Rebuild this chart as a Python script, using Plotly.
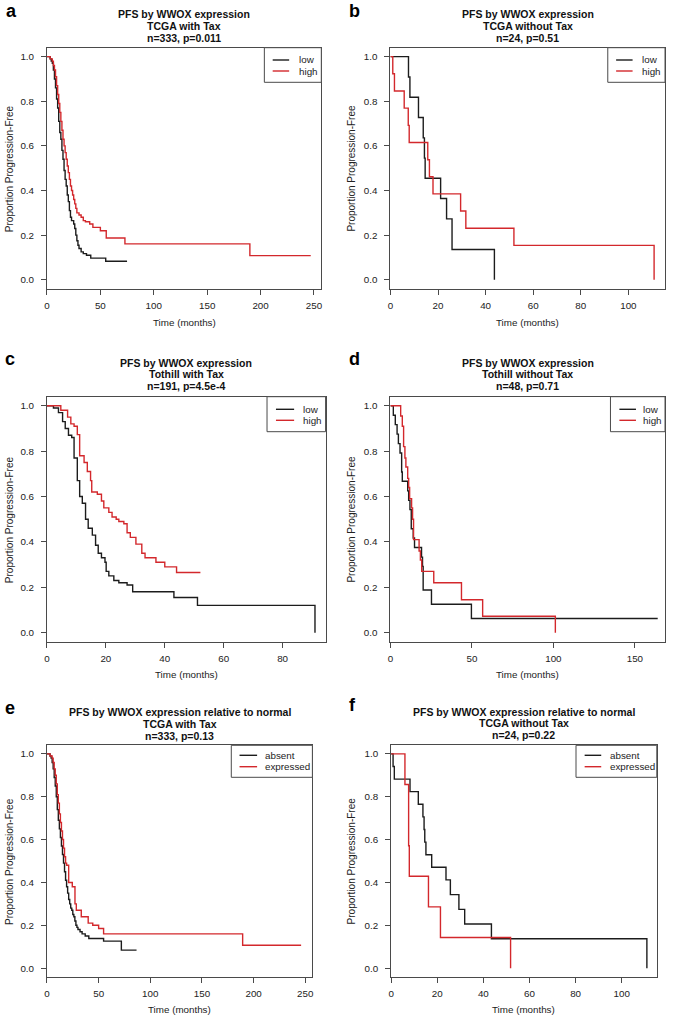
import plotly.graph_objects as go

# ---------------- data ----------------
A_LOW_T = [0, 3, 4, 5, 6, 7, 8, 9, 10, 11, 12, 13, 14, 15, 16, 17, 18, 19, 20, 21, 22, 23, 25, 26, 27, 28, 29, 30, 32, 34, 37, 41, 55, 75]
A_LOW_S = [1.0, 0.99, 0.98, 0.97, 0.94, 0.90, 0.86, 0.81, 0.77, 0.71, 0.66, 0.63, 0.58, 0.54, 0.49, 0.45, 0.42, 0.38, 0.35, 0.31, 0.28, 0.265, 0.25, 0.23, 0.20, 0.175, 0.155, 0.14, 0.125, 0.117, 0.11, 0.097, 0.083, 0.083]
A_HIGH_T = [0, 3, 5, 6, 7, 8, 9, 10, 11, 12, 13, 14, 15, 16, 17, 18, 19, 20, 21, 22, 23, 24, 25, 26, 27, 28, 30, 32, 34, 36, 40, 43, 50, 55.5, 73, 190, 247]
A_HIGH_S = [1.0, 0.99, 0.98, 0.96, 0.94, 0.91, 0.87, 0.83, 0.79, 0.75, 0.71, 0.67, 0.63, 0.60, 0.57, 0.54, 0.51, 0.48, 0.45, 0.42, 0.40, 0.38, 0.36, 0.34, 0.32, 0.30, 0.29, 0.28, 0.265, 0.26, 0.25, 0.235, 0.22, 0.187, 0.161, 0.108, 0.108]

B_LOW_T = [0, 7.6, 8.2, 11.8, 13.8, 14.3, 14.6, 21.1, 23.6, 25.9, 43.7]
B_LOW_S = [1, 0.909, 0.818, 0.727, 0.636, 0.545, 0.455, 0.364, 0.273, 0.136, 0]
B_HIGH_T = [0, 1.0, 1.7, 5.8, 7.5, 7.9, 15.7, 16.4, 17.9, 29.5, 31.7, 51.9, 110.8]
B_HIGH_S = [1, 0.923, 0.846, 0.769, 0.692, 0.615, 0.538, 0.462, 0.385, 0.308, 0.231, 0.154, 0]

C_LOW_T = [0, 2.2, 3.9, 5.3, 6.2, 7.3, 8.4, 9.2, 10.3, 11.1, 12.0, 13.1, 14.0, 15.4, 16.5, 17.4, 18.5, 19.7, 20.1, 21.0, 22.7, 24.4, 27.2, 29.1, 43.1, 51.1, 91]
C_LOW_S = [1, 0.99, 0.97, 0.93, 0.90, 0.87, 0.86, 0.77, 0.67, 0.60, 0.57, 0.50, 0.46, 0.43, 0.385, 0.35, 0.33, 0.31, 0.27, 0.25, 0.23, 0.22, 0.21, 0.18, 0.155, 0.12, 0]
C_HIGH_T = [0, 4.7, 7, 8.1, 9.2, 10.3, 11.1, 12.6, 13.7, 14.8, 15.2, 17.1, 18.5, 19.3, 21, 22.1, 23.5, 24.4, 26.1, 27.2, 28.3, 30.2, 32.2, 33.3, 37, 40, 44, 52.1]
C_HIGH_S = [1, 0.98, 0.95, 0.92, 0.91, 0.873, 0.78, 0.75, 0.71, 0.67, 0.62, 0.61, 0.58, 0.55, 0.53, 0.51, 0.50, 0.49, 0.48, 0.44, 0.42, 0.39, 0.35, 0.33, 0.31, 0.29, 0.265, 0.265]

D_LOW_T = [0, 1.8, 3.0, 4.1, 4.9, 5.9, 6.9, 7.3, 10.6, 11.2, 12.0, 12.8, 14.0, 14.8, 19.1, 19.7, 20.1, 25.2, 49.7, 164]
D_LOW_S = [1, 0.958, 0.917, 0.875, 0.833, 0.792, 0.708, 0.667, 0.625, 0.583, 0.542, 0.458, 0.417, 0.375, 0.333, 0.292, 0.188, 0.125, 0.0625, 0.0625]
D_HIGH_T = [0, 6.3, 7.3, 8.1, 8.9, 9.5, 10.6, 11.2, 11.8, 13.0, 13.6, 14.2, 17.6, 18.4, 19.2, 26.6, 43.6, 56.6, 101.2]
D_HIGH_S = [1, 0.955, 0.91, 0.82, 0.77, 0.73, 0.68, 0.64, 0.59, 0.55, 0.50, 0.41, 0.36, 0.32, 0.27, 0.22, 0.145, 0.072, 0]

E_ABS_T = [0, 3, 4, 5, 6, 7, 8, 9, 10, 11, 12, 13, 14, 15, 16, 17, 18, 19, 20, 21, 22, 23, 24, 25, 26, 27, 28, 29, 30, 32, 34, 37, 40.5, 54.8, 72, 86.7]
E_ABS_S = [1, 0.99, 0.98, 0.96, 0.93, 0.89, 0.85, 0.80, 0.74, 0.69, 0.65, 0.61, 0.57, 0.53, 0.49, 0.45, 0.41, 0.38, 0.35, 0.32, 0.30, 0.28, 0.27, 0.25, 0.24, 0.22, 0.20, 0.19, 0.18, 0.17, 0.16, 0.15, 0.138, 0.126, 0.084, 0.084]
E_EXP_T = [0, 3, 5, 6, 7, 8, 9, 10, 11, 12, 13, 14, 15, 16, 17, 18, 19, 21, 24.5, 27.1, 28.4, 33.2, 39.9, 44.3, 50, 54.8, 189.4, 246]
E_EXP_S = [1, 0.99, 0.98, 0.96, 0.93, 0.90, 0.86, 0.81, 0.77, 0.72, 0.68, 0.64, 0.60, 0.56, 0.52, 0.49, 0.48, 0.40, 0.38, 0.30, 0.27, 0.24, 0.21, 0.20, 0.185, 0.16, 0.107, 0.107]

F_ABS_T = [0, 0.86, 1.4, 8.2, 11.8, 13.8, 14.3, 14.6, 15.1, 17.6, 23.8, 25.7, 29.4, 31.9, 43.5, 110.9]
F_ABS_S = [1, 0.941, 0.882, 0.824, 0.765, 0.706, 0.647, 0.588, 0.529, 0.471, 0.412, 0.343, 0.274, 0.206, 0.137, 0]
F_EXP_T = [0, 6.0, 7.6, 7.9, 16.2, 21.4, 51.8]
F_EXP_S = [1, 0.857, 0.571, 0.429, 0.286, 0.143, 0]

LETTERS = ["a", "b", "c", "d", "e", "f"]
TITLE_LINE1 = ["PFS by WWOX expression"] * 4 + ["PFS by WWOX expression relative to normal"] * 2
TITLE_LINE2 = ["TCGA with Tax", "TCGA without Tax", "Tothill with Tax", "Tothill without Tax", "TCGA with Tax", "TCGA without Tax"]
TITLE_LINE3 = ["n=333, p=0.011", "n=24, p=0.51", "n=191, p=4.5e-4", "n=48, p=0.71", "n=333, p=0.13", "n=24, p=0.22"]
GROUP_NAMES = [("low", "high")] * 4 + [("absent", "expressed")] * 2
X_TICKS = [[0, 50, 100, 150, 200, 250], [0, 20, 40, 60, 80, 100], [0, 20, 40, 60, 80],
           [0, 50, 100, 150], [0, 50, 100, 150, 200, 250], [0, 20, 40, 60, 80, 100]]
X_MAX = [256.9, 115.4, 94.6, 168.5, 256.9, 115.2]
Y_TICKS = [0, 0.2, 0.4, 0.6, 0.8, 1.0]
Y_LABELS = ["0.0", "0.2", "0.4", "0.6", "0.8", "1.0"]
X_TITLE = "Time (months)"
Y_TITLE = "Proportion Progression-Free"

CURVES = [
    ((A_LOW_T, A_LOW_S), (A_HIGH_T, A_HIGH_S)),
    ((B_LOW_T, B_LOW_S), (B_HIGH_T, B_HIGH_S)),
    ((C_LOW_T, C_LOW_S), (C_HIGH_T, C_HIGH_S)),
    ((D_LOW_T, D_LOW_S), (D_HIGH_T, D_HIGH_S)),
    ((E_ABS_T, E_ABS_S), (E_EXP_T, E_EXP_S)),
    ((F_ABS_T, F_ABS_S), (F_EXP_T, F_EXP_S)),
]

# ---------------- layout geometry (pixels) ----------------
W, H = 673, 1017
# plot boxes: left, right, top, bottom
BOXES = [(44.3, 320.7, 47.7, 288.7), (390.3, 667.0, 47.7, 288.7),
         (44.3, 325.0, 396.7, 641.7), (390.3, 667.0, 396.7, 641.7),
         (44.3, 311.7, 745.3, 976.7), (391.0, 658.7, 745.3, 976.7)]
LETTER_POS = [(9, 0), (354, 0), (7, 348), (354, 348), (7, 697), (352, 694)]   # x centre, top
TITLE_Y = [(14.3, 26.0, 37.7), (14.3, 26.0, 37.7), (362.7, 374.3, 386.0),
           (362.7, 374.3, 386.0), (712.3, 724.0, 735.7), (711.7, 723.3, 735.0)]
XLAB_Y = [322.7, 322.7, 674.3, 674.3, 1009.0, 1009.0]
YLAB_X = [6, 351, 6, 351, 6, 351]
# legend: box left, box bottom, line x0, line x1, text x, row y1, row y2
LEGENDS = [(263.3, 82.3, 271.7, 288.3, 296.0, 60.0, 71.0),
           (609.3, 82.3, 617.7, 634.3, 642.0, 60.0, 71.0),
           (266.0, 431.7, 275.0, 293.3, 300.0, 409.3, 420.3),
           (612.0, 431.7, 621.0, 637.7, 642.5, 409.3, 420.3),
           (230.0, 777.3, 238.3, 256.0, 262.0, 755.3, 766.7),
           (577.3, 777.3, 586.0, 602.7, 609.5, 755.3, 766.7)]

FONT = "Liberation Sans, Arial, Helvetica, sans-serif"
COL_LOW = "#1c1c1c"
COL_HIGH = "#d3282c"
AXCOL = "#4a4a4a"
TXT = "#222222"


def fx(x):
    return x / W


def fy(y):
    return 1 - y / H


fig = go.Figure()
layout = dict(width=W, height=H, margin=dict(l=0, r=0, t=0, b=0),
              paper_bgcolor="white", plot_bgcolor="white", showlegend=False,
              font=dict(family=FONT, color=TXT))
annotations = []
shapes = []

for i in range(6):
    n = "" if i == 0 else str(i + 1)
    l, r, t, b = BOXES[i]
    (lt, ls), (ht, hs) = CURVES[i]
    names = GROUP_NAMES[i]
    fig.add_trace(go.Scatter(x=lt, y=ls, mode="lines", line=dict(shape="hv", color=COL_LOW, width=1.4),
                             name=names[0], xaxis="x" + n, yaxis="y" + n))
    fig.add_trace(go.Scatter(x=ht, y=hs, mode="lines", line=dict(shape="hv", color=COL_HIGH, width=1.4),
                             name=names[1], xaxis="x" + n, yaxis="y" + n))
    common = dict(showline=True, mirror=True, linecolor=AXCOL, linewidth=1, ticks="outside",
                  ticklen=5, tickcolor=AXCOL, tickwidth=1, showgrid=False, zeroline=False,
                  tickfont=dict(family=FONT, size=9.8, color=TXT))
    layout["xaxis" + n] = dict(domain=[fx(l), fx(r)], range=[0, X_MAX[i]], anchor="y" + n,
                               tickvals=X_TICKS[i], ticklabelstandoff=3, **common)
    layout["yaxis" + n] = dict(domain=[fy(b), fy(t)], range=[-0.04, 1.04], anchor="x" + n,
                               tickvals=Y_TICKS, ticktext=Y_LABELS, ticklabelstandoff=5, **common)
    cx = (l + r) / 2
    # panel letter
    lx, ly = LETTER_POS[i]
    annotations.append(dict(text="<b>" + LETTERS[i] + "</b>", x=fx(lx), y=fy(ly), xref="paper", yref="paper",
                            showarrow=False, xanchor="center", yanchor="top", borderpad=0,
                            font=dict(family=FONT, size=18, color="#000")))
    # title lines
    for txt, yy in zip((TITLE_LINE1[i], TITLE_LINE2[i], TITLE_LINE3[i]), TITLE_Y[i]):
        annotations.append(dict(text="<b>" + txt + "</b>", x=fx(cx), y=fy(yy), xref="paper", yref="paper",
                                showarrow=False, xanchor="center", yanchor="middle",
                                font=dict(family=FONT, size=10.5, color="#111")))
    # axis titles
    annotations.append(dict(text=X_TITLE, x=fx(cx), y=fy(XLAB_Y[i]), xref="paper", yref="paper",
                            showarrow=False, xanchor="center", yanchor="middle",
                            font=dict(family=FONT, size=9.8, color=TXT)))
    annotations.append(dict(text=Y_TITLE, x=fx(YLAB_X[i]), y=fy((t + b) / 2), xref="paper", yref="paper",
                            showarrow=False, xanchor="center", yanchor="middle", textangle=-90,
                            font=dict(family=FONT, size=10, color=TXT)))
    # legend box
    bl, bb, lx0, lx1, tx, ry1, ry2 = LEGENDS[i]
    shapes.append(dict(type="rect", xref="paper", yref="paper", x0=fx(bl), x1=fx(r), y0=fy(bb), y1=fy(t),
                       line=dict(color=AXCOL, width=1), fillcolor="white", layer="above"))
    for col, ry, nm in ((COL_LOW, ry1, names[0]), (COL_HIGH, ry2, names[1])):
        shapes.append(dict(type="line", xref="paper", yref="paper", x0=fx(lx0), x1=fx(lx1), y0=fy(ry), y1=fy(ry),
                           line=dict(color=col, width=1.4), layer="above"))
        annotations.append(dict(text=nm, x=fx(tx), y=fy(ry), xref="paper", yref="paper", showarrow=False,
                                xanchor="left", yanchor="middle", font=dict(family=FONT, size=9.8, color=TXT)))

layout["annotations"] = annotations
layout["shapes"] = shapes
fig.update_layout(**layout)
fig.write_html("out.html", config={"displayModeBar": False},
               post_script="document.body.style.margin='0';document.body.style.padding='0';")
